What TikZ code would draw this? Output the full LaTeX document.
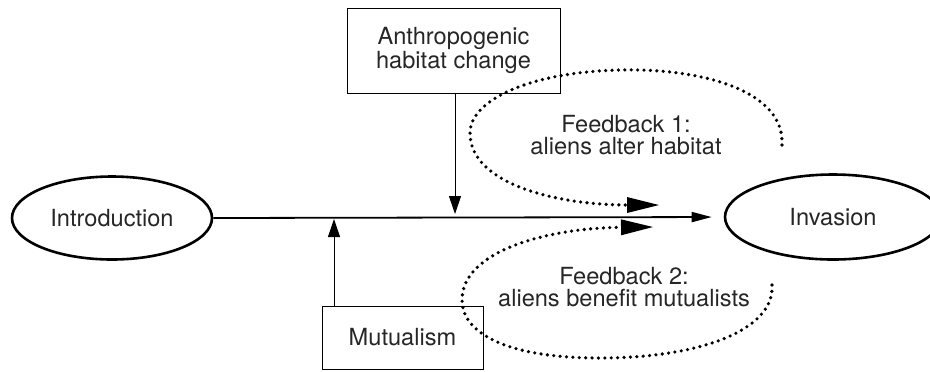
\documentclass[tikz,border=0pt]{standalone}
\usepackage{fontspec}
\setmainfont{TeX Gyre Heros}
\usepackage{tikz}
\usetikzlibrary{arrows.meta,shapes.geometric}

\tikzset{
  stage/.style={ellipse, draw, line width=1.3pt, minimum width=100pt,
    minimum height=41.5pt, inner sep=0pt},
  factor/.style={rectangle, draw, line width=0.5pt, align=center,
    inner sep=0pt},
  feedback/.style={line width=1.8pt, dash pattern=on 0pt off 3.2pt, line cap=round,
    -{Triangle[length=16pt,width=8pt,line width=0pt]}},
  label/.style={align=center, inner sep=0pt}
}

\begin{document}
\begin{tikzpicture}[x=0.5pt, y=-0.5pt, font=\fontsize{11.8}{11}\selectfont,
    text=black!85]
  \useasboundingbox (0,0) rectangle (930,371);

  \node [stage] (intro) at (112,218) {Introduction};
  \node [stage, minimum width=108pt, minimum height=42.5pt] (inv) at (833,217) {Invasion};

  \node [factor, minimum width=106.5pt, minimum height=42.5pt] (anthro) at (453.5,50.5)
    {Anthropogenic\\habitat change};
  \node [factor, minimum width=80.5pt, minimum height=31.5pt] (mutual) at (402.5,337.5)
    {Mutualism};

  \coordinate (hit) at (455,214);
  \coordinate (push) at (334,219);

  \draw [line width=0.9pt, -{Triangle[length=10pt,width=5pt]}, shorten >=6pt]
    (intro.east) -- (inv.west);
  \draw [line width=0.5pt, -{Triangle[length=9pt,width=6pt]}] (anthro.south -| hit) -- (hit);
  \draw [line width=0.5pt, -{Triangle[length=9pt,width=6pt]}] (mutual.north -| push) -- (push);

  \coordinate (fb1) at (782,145);
  \coordinate (fb1tip) at (659,205);
  \coordinate (fb2) at (772,285);
  \coordinate (fb2tip) at (653,227);

  \draw [feedback] (fb1) .. controls (785,90) and (700,68) .. (620,70)
    .. controls (530,72) and (470,100) .. (470,133)
    .. controls (470,185) and (560,205) .. (fb1tip);
  \draw [feedback] (fb2) .. controls (775,330) and (700,358) .. (600,358)
    .. controls (500,358) and (462,330) .. (462,300)
    .. controls (462,250) and (550,228) .. (fb2tip);

  \node [label] (fbtext1) at (626,135) {Feedback 1:\\aliens alter habitat};
  \node [label] (fbtext2) at (624,287) {Feedback 2:\\aliens benefit mutualists};
\end{tikzpicture}
\end{document}
